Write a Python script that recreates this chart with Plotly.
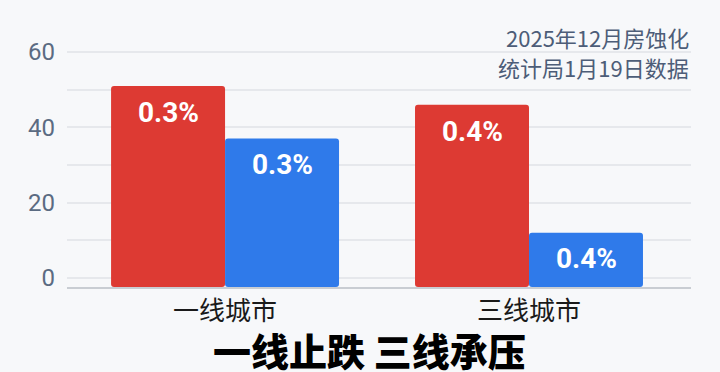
import plotly.graph_objects as go

# ---- data ----
categories = ["一线城市", "三线城市"]
red_values = [51, 46]
blue_values = [37, 12]
red_labels = ["0.3%", "0.4%"]
blue_labels = ["0.3%", "0.4%"]
y_tick_vals = [0, 20, 40, 60]
y_tick_text = ["0", "20", "40", "60"]
note_lines = ["2025年12月房蚀化", "统计局1月19日数据"]
title_text = "一线止跌 三线承压"

# ---- style ----
Y_MIN, Y_MAX = -2.4, 68.5
RED = "#dd3a33"
BLUE = "#2f7aea"
BG = "#f7f8fa"
CJK = "Noto Sans CJK SC"
NUM = "Roboto"

fig = go.Figure()
fig.add_trace(go.Bar(
    x=categories, y=[v - Y_MIN for v in red_values], base=Y_MIN,
    marker=dict(color=RED, cornerradius=3, line=dict(width=0)),
    hoverinfo="skip", name="red",
))
fig.add_trace(go.Bar(
    x=categories, y=[v - Y_MIN for v in blue_values], base=Y_MIN,
    marker=dict(color=BLUE, cornerradius=3, line=dict(width=0)),
    hoverinfo="skip", name="blue",
))

annotations = []
for cat, v, t in zip(categories, red_values, red_labels):
    annotations.append(dict(x=cat, y=v, xref="x", yref="y", text=t, showarrow=False,
                            xshift=-57, yshift=-27, yanchor="middle",
                            font=dict(family=NUM, size=28, color="white", weight="bold")))
for cat, v, t in zip(categories, blue_values, blue_labels):
    annotations.append(dict(x=cat, y=v, xref="x", yref="y", text=t, showarrow=False,
                            xshift=57, yshift=-26, yanchor="middle",
                            font=dict(family=NUM, size=28, color="white", weight="bold")))

for i, line in enumerate(note_lines):
    annotations.append(dict(x=1, y=1, xref="paper", yref="paper", xanchor="right", yanchor="middle",
                            yshift=-17 - 30 * i, xshift=-1, borderpad=0,
                            text=line, align="right", showarrow=False,
                            font=dict(family=CJK, size=22, color="#4d5d78")))
annotations.append(dict(x=0.5, y=0, xref="paper", yref="paper", xanchor="center", yanchor="top",
                        yshift=-34, xshift=-10, borderpad=0,
                        text=title_text, showarrow=False,
                        font=dict(family=CJK, size=38, color="#000000", weight=900)))

fig.update_layout(
    width=720, height=372,
    margin=dict(l=67, r=29, t=20, b=85),
    paper_bgcolor=BG, plot_bgcolor=BG,
    barmode="group", bargap=0.25, bargroupgap=0,
    showlegend=False,
    annotations=annotations,
    xaxis=dict(range=[-0.52, 1.533], showgrid=False, showline=True, linecolor="#c9cdd3",
               linewidth=2, ticks="", ticklabelstandoff=0,
               tickfont=dict(family=CJK, size=26, color="#1a1a1a")),
    yaxis=dict(range=[Y_MIN, Y_MAX], tickvals=y_tick_vals, ticktext=y_tick_text,
               showgrid=True, gridcolor="#e6e8ec", gridwidth=1.5, zeroline=False,
               ticks="", ticklabelstandoff=11,
               tickfont=dict(family=NUM, size=24, color="#5b6b82"),
               minor=dict(dtick=10, tick0=0, showgrid=True, gridcolor="#e6e8ec", gridwidth=1.5)),
)

fig.write_html("out.html")
